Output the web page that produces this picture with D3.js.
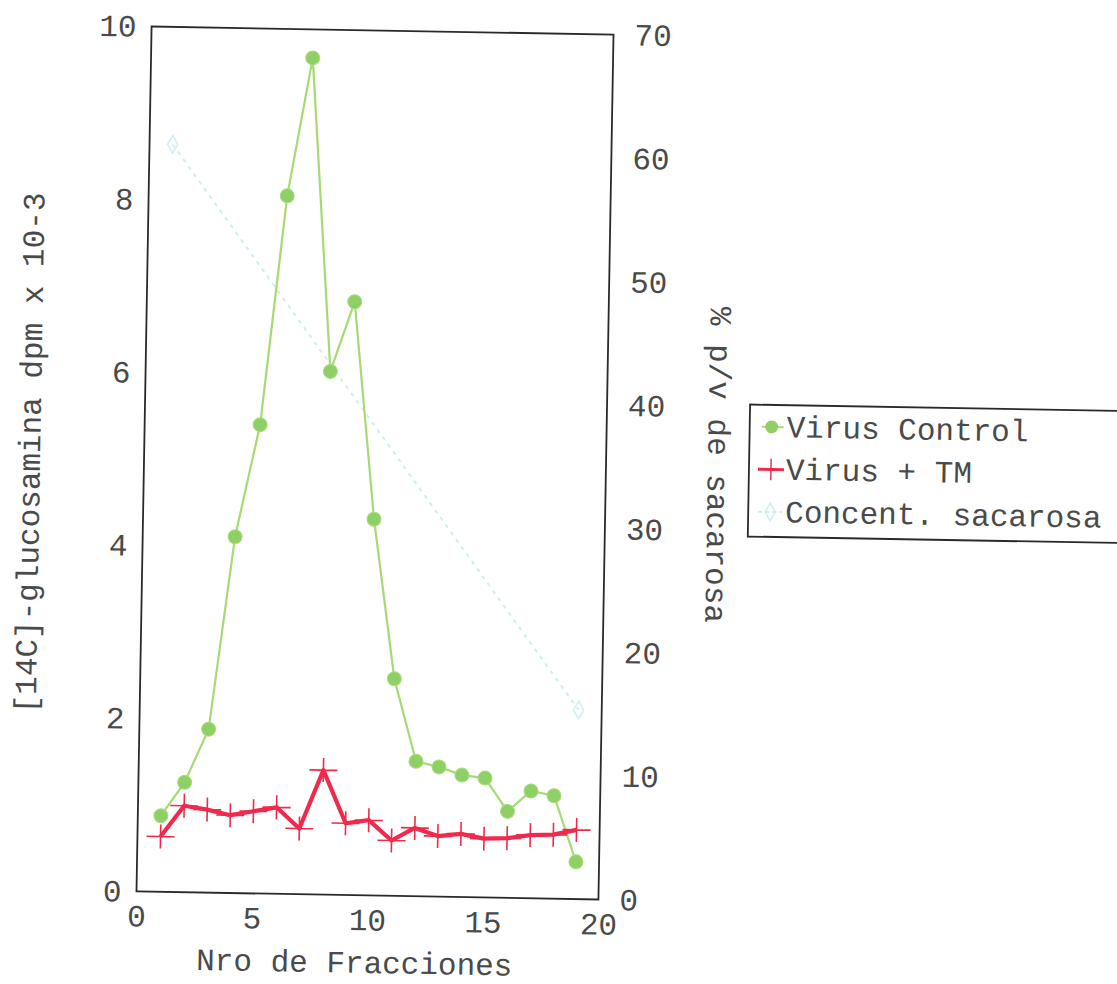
<!DOCTYPE html>
<html>
<head>
<meta charset="utf-8">
<script src="https://cdn.jsdelivr.net/npm/d3@7"></script>
<style>
  html, body { margin: 0; padding: 0; background: #fff; }
  svg { display: block; }
  text { font-family: "Liberation Mono", "Courier New", monospace; fill: #4a4a4a; }
</style>
</head>
<body>
<svg id="chart" width="1117" height="984"></svg>
<script>
// Fraction numbers from the sucrose gradient
const fractions = [1, 2, 3, 4, 5, 6, 7, 8, 9, 10, 11, 12, 13, 14, 15, 16, 17, 18, 19];
// [14C]-glucosamine incorporation (dpm x 10-3)
const virusControl = [0.88, 1.27, 1.89, 4.12, 5.42, 8.07, 9.67, 6.05, 6.86, 4.35, 2.51, 1.56, 1.50, 1.41, 1.38, 1.00, 1.24, 1.19, 0.43];
const virusTM = [0.64, 1.00, 0.96, 0.90, 0.95, 1.00, 0.76, 1.44, 0.83, 0.87, 0.64, 0.79, 0.70, 0.73, 0.68, 0.69, 0.73, 0.74, 0.80];
// Sucrose concentration (% w/v) at the ends of the gradient
const sucroseFractions = [1, 19];
const sucroseConc = [60.5, 15.3];

const xTicks = [0, 5, 10, 15, 20];
const yLeftTicks = [0, 2, 4, 6, 8, 10];
const yRightTicks = [0, 10, 20, 30, 40, 50, 60, 70];
const legendLabels = ["Virus Control", "Virus + TM", "Concent. sacarosa"];

const FONT = 31;
const svg = d3.select("#chart");
const W = 1117, H = 984;
svg.append("rect").attr("width", W).attr("height", H).attr("fill", "#fff");

const plot = { left: 144, right: 606, top: 30.5, bottom: 895.5 };
const cx = (plot.left + plot.right) / 2, cy = (plot.top + plot.bottom) / 2;

// whole figure sits slightly tilted on the page
const g = svg.append("g").attr("transform", `rotate(1, ${cx}, ${cy})`);

const x = d3.scaleLinear().domain([0, 20]).range([plot.left, plot.right]);
const yL = d3.scaleLinear().domain([0, 10]).range([plot.bottom, plot.top]);
const yR = d3.scaleLinear().domain([0, 70]).range([plot.bottom, plot.top]);

const green = "#a6da74", greenDot = "#8fd066";
const red = "#f02a4c";
const cyan = "#cdeff1";

// sucrose gradient line (faint dotted)
const sucrose = sucroseFractions.map((f, i) => ({ f, v: sucroseConc[i] }));
g.append("path")
  .datum(sucrose)
  .attr("fill", "none")
  .attr("stroke", cyan)
  .attr("stroke-width", 2)
  .attr("stroke-dasharray", "4,5")
  .attr("d", d3.line().x(d => x(d.f)).y(d => yR(d.v)));
g.selectAll(".suc-mark").data(sucrose).join("path")
  .attr("class", "suc-mark")
  .attr("transform", d => `translate(${x(d.f)},${yR(d.v)})`)
  .attr("d", d3.symbol(d3.symbolDiamond, 90)())
  .attr("fill", "none")
  .attr("stroke", cyan)
  .attr("stroke-width", 1.5);

// Virus Control
const ctrl = fractions.map((f, i) => ({ f, v: virusControl[i] }));
g.append("path")
  .datum(ctrl)
  .attr("fill", "none")
  .attr("stroke", green)
  .attr("stroke-width", 2.2)
  .attr("d", d3.line().x(d => x(d.f)).y(d => yL(d.v)));
g.selectAll(".ctrl-dot").data(ctrl).join("circle")
  .attr("class", "ctrl-dot")
  .attr("cx", d => x(d.f)).attr("cy", d => yL(d.v))
  .attr("r", 7)
  .attr("fill", greenDot)
  .attr("stroke", "#a9dc80")
  .attr("stroke-width", 1);

// Virus + TM
const tm = fractions.map((f, i) => ({ f, v: virusTM[i] }));
g.append("path")
  .datum(tm)
  .attr("fill", "none")
  .attr("stroke", red)
  .attr("stroke-width", 4.2)
  .attr("stroke-linejoin", "round")
  .attr("d", d3.line().x(d => x(d.f)).y(d => yL(d.v)));
const plus = "M-14,0H14M0,-12V12";
g.selectAll(".tm-mark").data(tm).join("path")
  .attr("class", "tm-mark")
  .attr("transform", d => `translate(${x(d.f)},${yL(d.v)})`)
  .attr("d", plus)
  .attr("stroke", red)
  .attr("stroke-width", 1.6)
  .attr("fill", "none");

// plot frame
g.append("rect")
  .attr("x", plot.left).attr("y", plot.top)
  .attr("width", plot.right - plot.left).attr("height", plot.bottom - plot.top)
  .attr("fill", "none").attr("stroke", "#2a2a2a").attr("stroke-width", 1.8);

// axes (labels only, no tick marks)
function styleAxis(sel) {
  sel.select(".domain").remove();
  sel.selectAll(".tick line").remove();
  sel.selectAll("text").attr("font-size", FONT).attr("fill", "#4a4a4a")
    .attr("font-family", "Liberation Mono, Courier New, monospace");
}
g.append("g")
  .attr("transform", `translate(0,${plot.bottom})`)
  .call(d3.axisBottom(x).tickValues(xTicks).tickSize(0).tickPadding(13).tickFormat(d3.format("d")))
  .call(styleAxis);
g.append("g")
  .attr("transform", `translate(${plot.left},0)`)
  .call(d3.axisLeft(yL).tickValues(yLeftTicks).tickSize(0).tickPadding(15).tickFormat(d3.format("d")))
  .call(styleAxis);
g.append("g")
  .attr("transform", `translate(${plot.right},0)`)
  .call(d3.axisRight(yR).tickValues(yRightTicks).tickSize(0).tickPadding(21).tickFormat(d3.format("d")))
  .call(styleAxis);

// axis titles
g.append("text")
  .attr("x", cx - 12).attr("y", 973)
  .attr("text-anchor", "middle").attr("font-size", FONT)
  .text("Nro de Fracciones");
g.append("text")
  .attr("transform", `translate(40,${cy - 4}) rotate(-90)`)
  .attr("text-anchor", "middle").attr("font-size", FONT)
  .text("[14C]-glucosamina dpm x 10-3");
g.append("text")
  .attr("transform", `translate(708,${cy - 4}) rotate(90)`)
  .attr("text-anchor", "middle").attr("font-size", FONT)
  .text("% p/v de sacarosa");

// legend
const leg = g.append("g").attr("transform", "translate(749,398)");
leg.append("rect")
  .attr("x", 0).attr("y", 0).attr("width", 400).attr("height", 132)
  .attr("fill", "#fff").attr("stroke", "#2a2a2a").attr("stroke-width", 1.8);
const rows = leg.selectAll(".row").data(legendLabels).join("g")
  .attr("class", "row")
  .attr("transform", (d, i) => `translate(0,${22 + i * 42.5})`);
rows.append("text")
  .attr("x", 37).attr("y", 10).attr("font-size", FONT)
  .text(d => d);
// legend symbols
const r0 = leg.append("g").attr("transform", "translate(22,22)");
r0.append("line").attr("x1", -10).attr("x2", 12).attr("stroke", green).attr("stroke-width", 2);
r0.append("circle").attr("r", 6.5).attr("fill", greenDot);
const r1 = leg.append("g").attr("transform", "translate(22,64.5)");
r1.append("line").attr("x1", -13).attr("x2", 13).attr("stroke", red).attr("stroke-width", 3);
r1.append("path").attr("d", plus).attr("stroke", red).attr("stroke-width", 1.6)
  .attr("transform", "scale(0.9)");
const r2 = leg.append("g").attr("transform", "translate(22,107)");
r2.append("line").attr("x1", -12).attr("x2", 12).attr("stroke", cyan).attr("stroke-width", 2).attr("stroke-dasharray", "4,3");
r2.append("path").attr("d", d3.symbol(d3.symbolDiamond, 90)()).attr("fill", "none").attr("stroke", cyan).attr("stroke-width", 1.5);
</script>
</body>
</html>
